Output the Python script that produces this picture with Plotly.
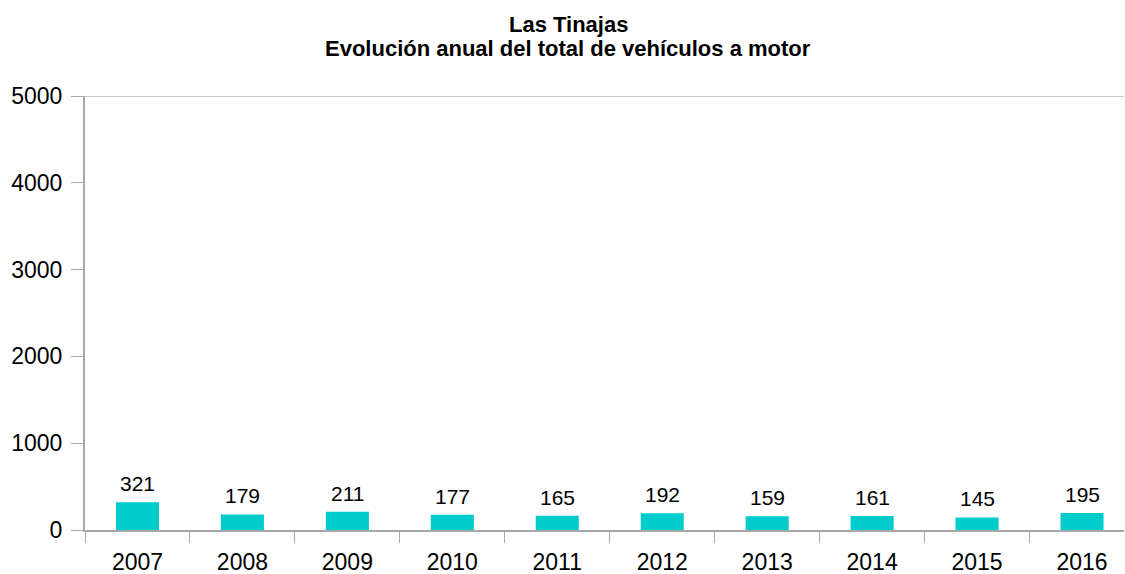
import plotly.graph_objects as go

years = ["2007", "2008", "2009", "2010", "2011", "2012", "2013", "2014", "2015", "2016"]
vehicles = [321, 179, 211, 177, 165, 192, 159, 161, 145, 195]
y_ticks = [0, 1000, 2000, 3000, 4000, 5000]
title_lines = ["Las Tinajas", "Evolución anual del total de vehículos a motor"]

FONT = "Liberation Sans, Arial, sans-serif"
PLOT_TOP, PLOT_BOTTOM, PLOT_LEFT, PLOT_RIGHT = 96, 530, 85, 1124


def paper_y(px):
    return (PLOT_BOTTOM - px) / (PLOT_BOTTOM - PLOT_TOP)


def paper_x(px):
    return (px - PLOT_LEFT) / (PLOT_RIGHT - PLOT_LEFT)


fig = go.Figure(
    go.Bar(
        x=years,
        y=vehicles,
        marker=dict(color="#00CCCC", line=dict(width=0)),
        width=0.41,
        hoverinfo="x+y",
    )
)

# value labels above each bar
for i, v in enumerate(vehicles):
    fig.add_annotation(
        x=i, y=v, xref="x", yref="y", text=str(v), showarrow=False,
        yanchor="bottom", yshift=5,
        font=dict(family=FONT, size=21, color="#000000"),
    )

# two-line bold title
for line, ypx in zip(title_lines, [24, 49]):
    fig.add_annotation(
        x=paper_x(568), y=paper_y(ypx), xref="paper", yref="paper",
        text=f"<b>{line}</b>", showarrow=False,
        xanchor="center", yanchor="middle",
        font=dict(family=FONT, size=22, color="#000000"),
    )

# top border line at the axis maximum
fig.add_shape(
    type="line", xref="paper", yref="y", x0=0, x1=1, y0=5000, y1=5000,
    line=dict(color="#C8C8C8", width=2),
)

fig.update_layout(
    width=1125, height=574,
    margin=dict(l=PLOT_LEFT, r=1125 - PLOT_RIGHT, t=PLOT_TOP, b=574 - PLOT_BOTTOM),
    plot_bgcolor="#FFFFFF",
    paper_bgcolor="#FFFFFF",
    showlegend=False,
    xaxis=dict(
        type="category",
        range=[-0.5, 9.4],
        automargin=False,
        showgrid=False,
        showline=True, linecolor="#A8A8A8", linewidth=2,
        ticks="outside", tickson="boundaries", ticklen=11, tickcolor="#A8A8A8", tickwidth=1,
        ticklabelstandoff=10,
        tickfont=dict(family=FONT, size=23, color="#000000"),
    ),
    yaxis=dict(
        range=[0, 5000],
        tickvals=y_ticks,
        automargin=False,
        showgrid=False, zeroline=False,
        showline=True, linecolor="#A8A8A8", linewidth=2,
        ticks="outside", ticklen=12, tickcolor="#A8A8A8", tickwidth=1,
        ticklabelstandoff=4,
        tickfont=dict(family=FONT, size=23, color="#000000"),
    ),
)

fig.write_html("out.html")
